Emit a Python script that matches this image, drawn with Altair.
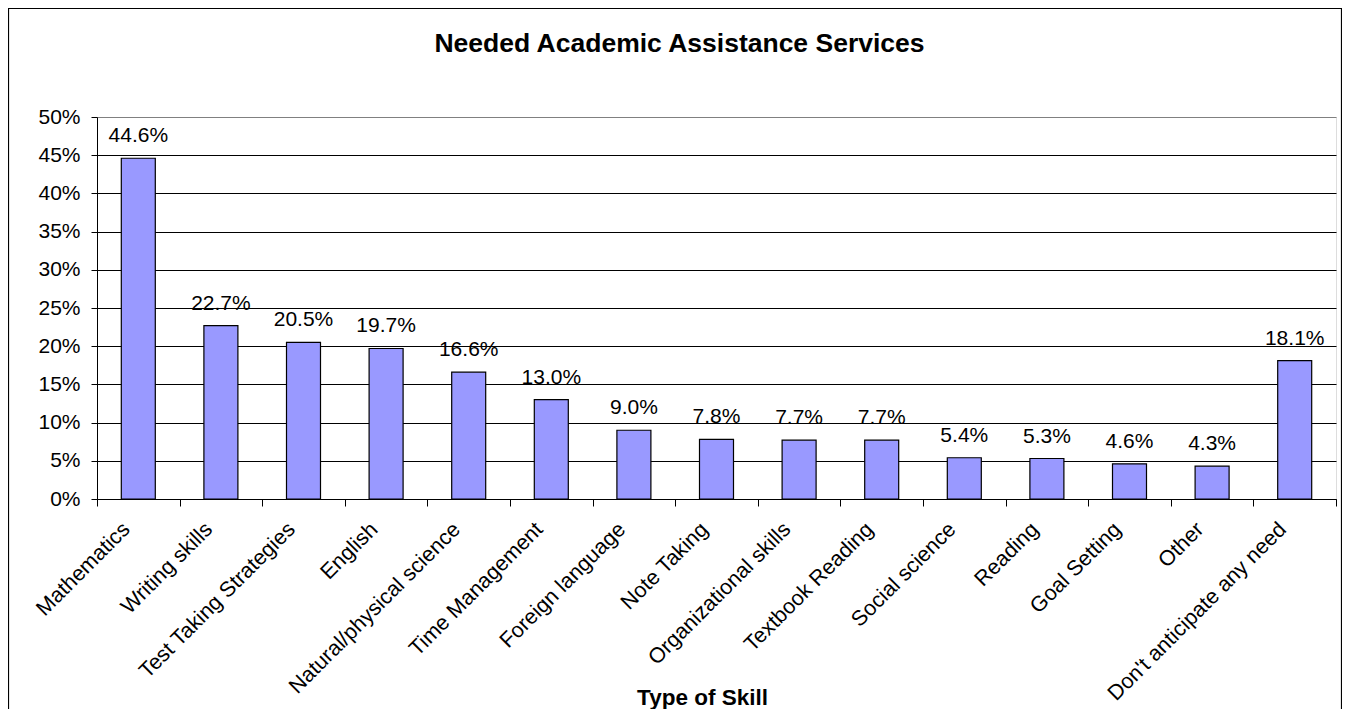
import altair as alt
import pandas as pd

categories = ["Mathematics", "Writing skills", "Test Taking Strategies", "English",
              "Natural/physical science", "Time Management", "Foreign language",
              "Note Taking", "Organizational skills", "Textbook Reading",
              "Social science", "Reading", "Goal Setting", "Other",
              "Don't anticipate any need"]
percent = [44.6, 22.7, 20.5, 19.7, 16.6, 13.0, 9.0, 7.8, 7.7, 7.7, 5.4, 5.3, 4.6, 4.3, 18.1]
y_ticks = [0, 0.05, 0.10, 0.15, 0.20, 0.25, 0.30, 0.35, 0.40, 0.45, 0.50]

df = pd.DataFrame({"skill": categories, "share": [p / 100 for p in percent]})

W, H = 1239, 382
FONT = "Liberation Sans"

x_enc = alt.X("skill:N", sort=categories, title="Type of Skill",
              scale=alt.Scale(paddingInner=0, paddingOuter=0),
              axis=alt.Axis(labelAngle=-45, labelAlign="right", labelBaseline="middle",
                            labelPadding=20, labelOffset=-12, labelFontSize=21.5,
                            labelFont=FONT, labelColor="black", labelLimit=400,
                            labelOverlap=False,
                            tickBand="extent", tickSize=7, tickColor="black",
                            domainColor="black", titleFont=FONT, titleFontSize=22.5,
                            titleFontWeight="bold", titleColor="black",
                            titleX=605, titleY=205, titleBaseline="alphabetic",
                            titleAlign="center", titleAngle=0))
y_enc = alt.Y("share:Q", title=None,
              scale=alt.Scale(domain=[0, 0.5], nice=False),
              axis=alt.Axis(values=y_ticks, format=".0%", labelFontSize=21,
                            labelFont=FONT, labelColor="black", labelPadding=11,
                            labelOverlap=False,
                            tickSize=6, tickColor="black", domainColor="black",
                            gridColor={"condition": {"test": "datum.value >= 0.5", "value": "#808080"},
                                       "value": "black"},
                            gridOpacity=1))

frame = alt.Chart(alt.Data(values=[{}])).mark_rect(
    fill=None, stroke="black", strokeWidth=1.2
).encode(x=alt.value(-88.5), x2=alt.value(1244.5), y=alt.value(-108.5), y2=alt.value(700))

bars = alt.Chart(df).mark_bar(size=34, color="#9999FF", stroke="black", strokeWidth=1.2).encode(
    x=x_enc, y=y_enc)

labels = alt.Chart(df).mark_text(baseline="alphabetic", dy=-16, fontSize=21, font=FONT,
                                 color="black").encode(
    x=x_enc,
    y=y_enc,
    text=alt.Text("share:Q", format=".1%"))

chart = alt.layer(frame, bars, labels).properties(
    width=W, height=H,
    autosize="none",
    padding={"left": 89, "top": 109, "right": 6, "bottom": 210},
    title=alt.TitleParams("Needed Academic Assistance Services", font=FONT, fontSize=26.5,
                          fontWeight="bold", color="black", frame="group",
                          anchor="middle", dx=-37, offset=-50),
).configure_view(stroke="#808080", strokeWidth=1).configure(background="white")

chart.save("out.html", embed_options={"renderer": "svg", "actions": False})
